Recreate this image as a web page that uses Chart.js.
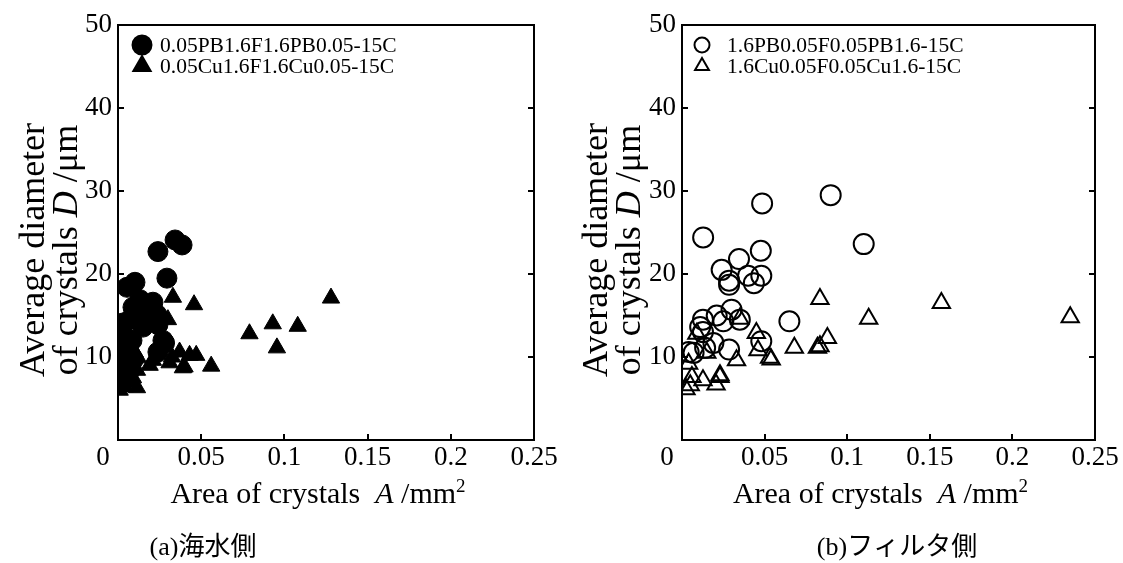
<!DOCTYPE html>
<html><head><meta charset="utf-8">
<script src="https://cdn.jsdelivr.net/npm/chart.js@4.4.1/dist/chart.umd.min.js"></script>
<style>
html,body{margin:0;padding:0;background:#fff;width:1123px;height:563px;overflow:hidden}
canvas{position:absolute;top:0}
#c1{left:0}
#c2{left:561px}
</style></head><body>
<canvas id="c1" width="561" height="563"></canvas>
<canvas id="c2" width="562" height="563"></canvas>
<script>
// ---- tick labels ----
const xTickValues = [0, 0.05, 0.1, 0.15, 0.2, 0.25];
const xTickLabels = ['0', '0.05', '0.1', '0.15', '0.2', '0.25'];
const yTickValues = [0, 10, 20, 30, 40, 50];
const yTickLabels = ['0', '10', '20', '30', '40', '50'];

// ---- series labels ----
const seriesLabelsA = ['0.05PB1.6F1.6PB0.05-15C', '0.05Cu1.6F1.6Cu0.05-15C'];
const seriesLabelsB = ['1.6PB0.05F0.05PB1.6-15C', '1.6Cu0.05F0.05Cu1.6-15C'];
const panelCaptions = ['(a)海水側', '(b)フィルタ側'];

// ---- (a) sea-water side ----
const aPBArea = [0.0343,0.0385,0.024,0.0294,0.0102,0.0054,0.0132,0.021,0.009,0.0174,0.0234,0.0114,0.019,0.0072,0.024,0.015,0.003,0.0024,0.0024,0.0012,0.0024,0.0012,0.003,0.0084,0.009,0.028,0.024,0.027,0.0072];
const aPBDiam = [24.1,23.5,22.7,19.5,19.0,18.4,16.9,16.6,16.0,15.7,15.1,15.1,14.5,14.5,13.9,13.6,14.1,12.9,11.7,10.5,9.3,8.1,7.0,12.0,9.6,11.7,10.6,12.0,8.4];
const aCuArea = [0.128,0.079,0.093,0.108,0.0955,0.0457,0.043,0.047,0.040,0.056,0.033,0.030,0.026,0.021,0.0325,0.037,0.019,0.031,0.039,0.010,0.012,0.0084,0.0114,0.009,0.0042,0.0114,0.001,0.006];
const aCuDiam = [17.1,12.8,14.0,13.7,11.1,16.3,10.2,10.2,8.8,8.9,17.2,14.5,11.2,9.6,10.0,10.6,9.0,9.3,8.7,10.6,9.9,8.8,8.4,7.5,6.4,6.3,6.0,7.0];

// ---- (b) filter side ----
const bPBArea = [0.090,0.0485,0.0128,0.110,0.0477,0.0345,0.024,0.040,0.048,0.0285,0.0285,0.0435,0.065,0.030,0.021,0.025,0.035,0.0127,0.011,0.0127,0.019,0.0285,0.048,0.014,0.007,0.004];
const bPBDiam = [29.5,28.5,24.4,23.6,22.8,21.8,20.5,19.8,19.8,19.2,18.7,18.9,14.3,15.7,15.0,14.3,14.5,14.5,13.6,13.0,11.7,10.9,11.9,11.1,10.5,10.6];
const bCuArea = [0.0835,0.113,0.035,0.009,0.045,0.088,0.0835,0.082,0.068,0.046,0.053,0.054,0.033,0.015,0.004,0.006,0.023,0.023,0.0127,0.0206,0.0024,0.005,0.157,0.235];
const bCuDiam = [17.0,14.6,14.6,12.8,12.9,12.3,11.3,11.1,11.1,10.8,9.9,9.7,9.6,10.5,9.2,7.6,7.8,7.6,7.2,6.7,6.1,6.6,16.5,14.8];

const SERIF = '"Liberation Serif","Times New Roman",serif';
const CAPFONT = '"Liberation Serif","Noto Sans CJK JP",serif';
const toPts = (xs, ys) => xs.map((v, i) => ({x: v, y: ys[i]}));

function drawRuns(ctx, runs, cx, baseY) {
  let total = 0;
  runs.forEach(r => { ctx.font = r.font; r.w = ctx.measureText(r.t).width; total += r.w; });
  let x = cx - total / 2;
  ctx.textAlign = 'left';
  ctx.textBaseline = 'alphabetic';
  runs.forEach(r => { ctx.font = r.font; ctx.fillText(r.t, x, baseY + (r.dy || 0)); x += r.w; });
}

const framePlugin = {
  id: 'frame',
  afterDraw(chart, args, o) {
    const ctx = chart.ctx;
    const {left, right, top, bottom} = chart.chartArea;
    const xs = chart.scales.x, ys = chart.scales.y;
    ctx.save();
    ctx.strokeStyle = '#000';
    ctx.lineWidth = 2;
    ctx.strokeRect(left, top, right - left, bottom - top);
    ctx.beginPath();
    ys.ticks.forEach(t => {
      if (t.value <= ys.min || t.value >= ys.max) return;
      const py = Math.round(ys.getPixelForValue(t.value));
      ctx.moveTo(left, py); ctx.lineTo(left + 6, py);
      ctx.moveTo(right, py); ctx.lineTo(right - 6, py);
    });
    xs.ticks.forEach(t => {
      if (t.value <= xs.min || t.value >= xs.max) return;
      const px = Math.round(xs.getPixelForValue(t.value));
      ctx.moveTo(px, bottom); ctx.lineTo(px, bottom - 6);
    });
    ctx.stroke();

    ctx.fillStyle = '#000';
    // shared origin label
    ctx.font = '27px ' + SERIF;
    ctx.textAlign = 'center';
    ctx.textBaseline = 'middle';
    ctx.fillText(xTickLabels[0], left - 15, bottom + 18);

    // legend
    chart.data.datasets.forEach((ds, i) => {
      const ly = o.legendY + i * 21;
      ctx.save();
      ctx.fillStyle = ds.backgroundColor;
      ctx.strokeStyle = ds.borderColor;
      Chart.helpers.drawPoint(ctx, {pointStyle: ds.pointStyle, radius: o.legendR[i], borderWidth: ds.borderWidth, rotation: 0}, o.legendMarkX, ly);
      ctx.restore();
      ctx.fillStyle = '#000';
      ctx.font = '21.5px ' + SERIF;
      ctx.textAlign = 'left';
      ctx.textBaseline = 'middle';
      ctx.fillText(ds.label, o.legendTextX, ly + 1);
    });

    // y title (two lines, rotated)
    const cyT = o.yTitleCenterY;
    const fN = '36px ' + SERIF, fI = 'italic 36px ' + SERIF;
    ctx.save();
    ctx.translate(o.yTitleX1, cyT);
    ctx.rotate(-Math.PI / 2);
    drawRuns(ctx, [{t: 'Average diameter', font: fN}], 0, 0);
    ctx.restore();
    ctx.save();
    ctx.translate(o.yTitleX2, cyT);
    ctx.rotate(-Math.PI / 2);
    drawRuns(ctx, [{t: 'of crystals ', font: fN}, {t: 'D', font: fI}, {t: ' /μm', font: fN}], 0, 0);
    ctx.restore();

    // x title
    const xf = '30px ' + SERIF, xfi = 'italic 30px ' + SERIF;
    drawRuns(ctx, [{t: 'Area of crystals  ', font: xf}, {t: 'A', font: xfi}, {t: ' /mm', font: xf}, {t: '2', font: '19px ' + SERIF, dy: -11}],
      (left + right) / 2 - 8, o.xTitleY);

    // caption
    ctx.font = '26px ' + CAPFONT;
    ctx.textAlign = 'center';
    ctx.textBaseline = 'middle';
    ctx.fillText(o.caption, o.captionX, 548);
    ctx.restore();
  }
};

function makeChart(id, labels, pbA, pbD, cuA, cuD, filled, yWidth, padRight, opts) {
  const fill = filled ? '#000' : 'rgba(0,0,0,0)';
  return new Chart(document.getElementById(id), {
    type: 'scatter',
    data: {
      datasets: [
        {label: labels[0], data: toPts(pbA, pbD), pointStyle: 'circle', pointRadius: 10,
         backgroundColor: fill, borderColor: '#000', borderWidth: filled ? 1 : 2},
        {label: labels[1], data: toPts(cuA, cuD), pointStyle: 'triangle', pointRadius: 10,
         backgroundColor: fill, borderColor: '#000', borderWidth: filled ? 1 : 2}
      ]
    },
    options: {
      responsive: false,
      animation: false,
      events: [],
      layout: {padding: {left: 0, top: 25, right: padRight, bottom: 0}},
      plugins: {legend: {display: false}, tooltip: {enabled: false}, frame: opts},
      scales: {
        x: {
          type: 'linear', min: 0, max: 0.25,
          afterBuildTicks: s => { s.ticks = xTickValues.map(v => ({value: v})); },
          afterFit: s => { s.height = 123; },
          grid: {display: false, drawTicks: false}, border: {display: false},
          ticks: {callback: (v, i) => i === 0 ? '' : xTickLabels[i], color: '#000', padding: 2,
                  maxRotation: 0, autoSkip: false, font: {family: SERIF, size: 27}}
        },
        y: {
          type: 'linear', min: 0, max: 50,
          afterBuildTicks: s => { s.ticks = yTickValues.map(v => ({value: v})); },
          afterFit: s => { s.width = yWidth; },
          grid: {display: false, drawTicks: false}, border: {display: false},
          ticks: {callback: (v, i) => i === 0 ? '' : yTickLabels[i], color: '#000', padding: 6,
                  font: {family: SERIF, size: 27}}
        }
      }
    },
    plugins: [framePlugin]
  });
}

makeChart('c1', seriesLabelsA, aPBArea, aPBDiam, aCuArea, aCuDiam, true, 118, 27,
  {legendY: 45, legendR: [9.5, 10], legendMarkX: 142, legendTextX: 160,
   yTitleX1: 44, yTitleX2: 77, yTitleCenterY: 250, xTitleY: 503, caption: panelCaptions[0], captionX: 203});
makeChart('c2', seriesLabelsB, bPBArea, bPBDiam, bCuArea, bCuDiam, false, 121, 28,
  {legendY: 45, legendR: [7.5, 8], legendMarkX: 141, legendTextX: 166,
   yTitleX1: 46, yTitleX2: 79, yTitleCenterY: 250, xTitleY: 503, caption: panelCaptions[1], captionX: 336});
</script>
</body></html>
